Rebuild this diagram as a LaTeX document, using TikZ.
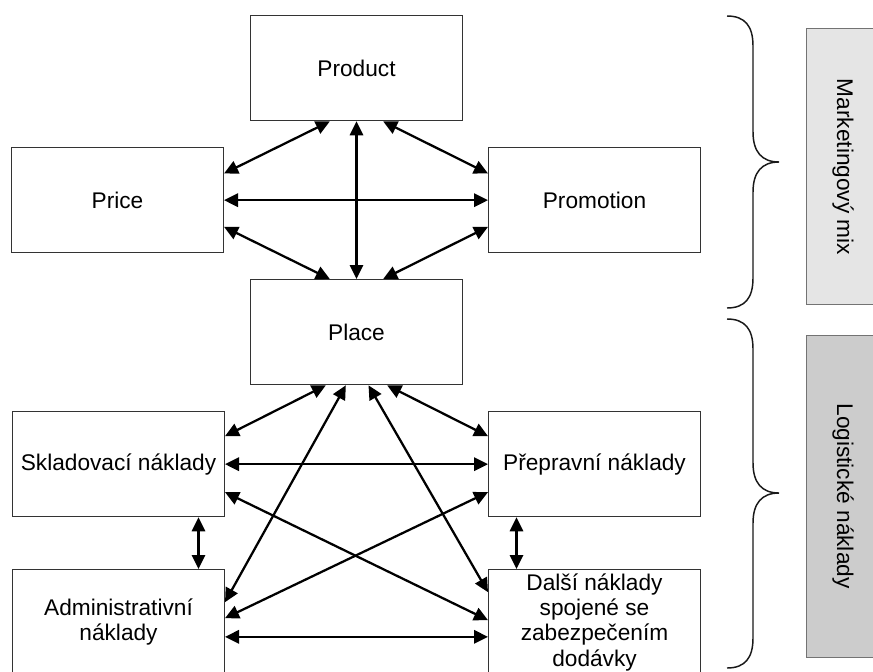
\documentclass[tikz,border=0pt]{standalone}
\usepackage{fontspec}
\setmainfont{Liberation Sans}
\usetikzlibrary{arrows.meta}
\begin{document}
\begin{tikzpicture}[x=0.75pt,y=-0.75pt,
  box/.style={draw=black!80,line width=0.75pt,minimum width=159pt,minimum height=79pt,
    inner sep=0pt,anchor=north west,align=center,font=\fontsize{17}{19}\selectfont},
  link/.style={line width=1.7pt,{Triangle[length=10.5pt,width=10pt]}-{Triangle[length=10.5pt,width=10pt]}},
  side/.style={draw=black!55,line width=0.75pt,minimum width=60pt,inner sep=0pt,anchor=north west},
  brace/.style={line width=1.1pt,black!90}]

  \useasboundingbox (0,0) rectangle (873,671);

  % marketing mix
  \node[box] (product) at (250,15) {Product};
  \node[box] (price) at (11,147) {Price};
  \node[box] (promotion) at (488,147) {Promotion};
  \node[box] (place) at (250,279) {Place};

  % logistic costs
  \node[box] (sklad) at (12,411) {Skladovací náklady};
  \node[box] (preprav) at (488,411) {Přepravní náklady};
  \node[box] (admin) at (12,569) {Administrativní\\náklady};
  \node[box] (dalsi) at (488,569) {Další náklady\\spojené se\\zabezpečením\\dodávky};

  \draw[link] ([yshift=20pt]price.east) -- ([xshift=-20pt]product.south);
  \draw[link] ([xshift=20pt]product.south) -- ([yshift=20pt]promotion.west);
  \draw[link] (product.south) -- (place.north);
  \draw[link] (price.east) -- (promotion.west);
  \draw[link] ([yshift=-20pt]price.east) -- ([xshift=-20pt]place.north);
  \draw[link] ([yshift=-20pt]promotion.west) -- ([xshift=20pt]place.north);

  \draw[link] ([xshift=-23pt]place.south) -- ([yshift=21pt]sklad.east);
  \draw[link] ([xshift=-8pt]place.south) -- ([yshift=15pt]admin.east);
  \draw[link] ([xshift=9pt]place.south) -- ([yshift=22.5pt]dalsi.west);
  \draw[link] ([xshift=23pt]place.south) -- ([yshift=21pt]preprav.west);
  \draw[link] (sklad.east) -- (preprav.west);
  \draw[link] ([yshift=-21pt]sklad.east) -- ([yshift=1.5pt]dalsi.west);
  \draw[link] ([yshift=-21pt]preprav.west) -- ([yshift=3pt]admin.east);
  \draw[link] ([yshift=-11pt]admin.east) -- ([yshift=-11pt]dalsi.west);
  \draw[link] ([xshift=60pt]sklad.south) -- ([xshift=60pt]admin.north);
  \draw[link] ([xshift=-58.5pt]preprav.south) -- ([xshift=-58.5pt]dalsi.north);

  % braces
  \draw[brace] (727,16) .. controls (745,16) and (753,26) .. (753,46) -- (753,132)
    .. controls (753,152) and (762,162) .. (779,162)
    .. controls (762,162) and (753,172) .. (753,192) -- (753,278)
    .. controls (753,298) and (745,308) .. (727,308);
  \draw[brace] (727,319) .. controls (745,319) and (753,329) .. (753,349) -- (753,463)
    .. controls (753,483) and (762,493) .. (779,493)
    .. controls (762,493) and (753,503) .. (753,523) -- (753,638)
    .. controls (753,658) and (745,668) .. (727,668);

  % side labels
  \node[side,fill=black!10,minimum height=207pt] (mix) at (806,28) {};
  \node[side,fill=black!20,minimum height=241.5pt] (costs) at (806,335) {};
  \node[rotate=-90,font=\fontsize{17}{19}\selectfont] (mixlabel) at (843,167) {Marketingový mix};
  \node[rotate=-90,font=\fontsize{17}{19}\selectfont] (costslabel) at (843,496) {Logistické náklady};
\end{tikzpicture}
\end{document}
